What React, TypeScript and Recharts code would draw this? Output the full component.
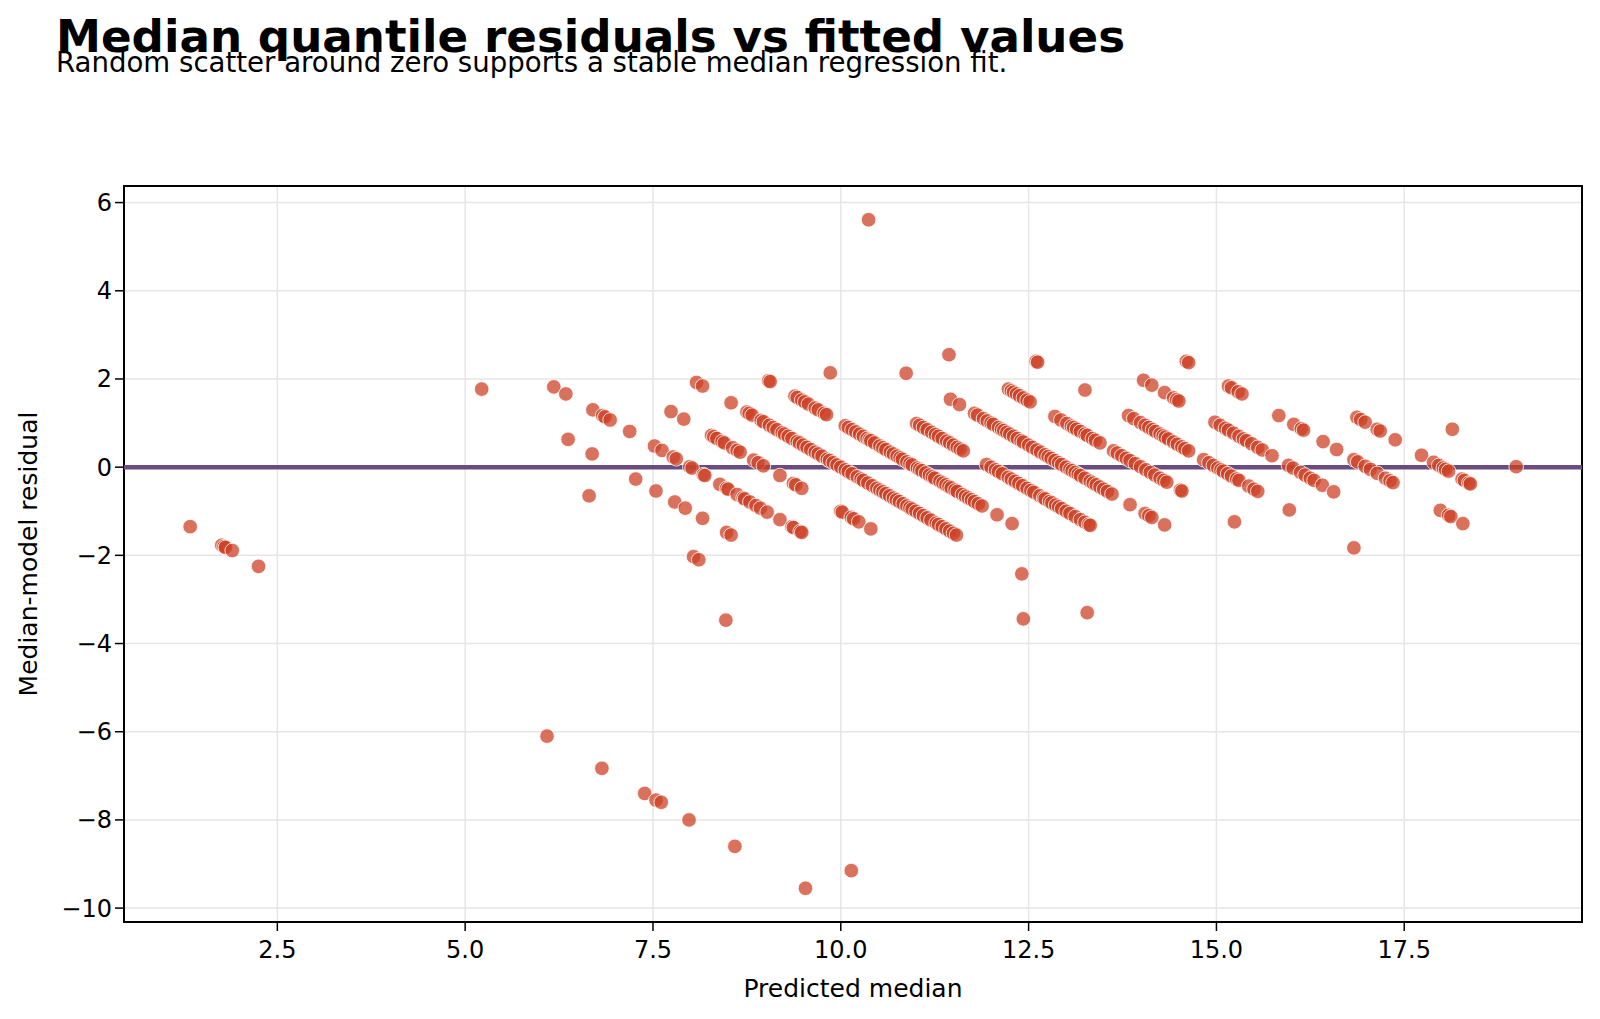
import React from "react";
import {
  ScatterChart, Scatter, XAxis, YAxis, CartesianGrid, ReferenceLine, ReferenceArea,
} from "recharts";

// [predicted median, residual] pairs
const ZERO_COUNT_POINTS: number[][] = [
  [1.34, -1.35], [1.76, -1.77], [1.79, -1.8], [1.81, -1.82], [1.9, -1.89], [2.25, -2.25],
  [6.09, -6.1], [6.82, -6.83], [7.39, -7.4], [7.54, -7.55], [7.61, -7.6], [7.98, -8.0],
  [8.59, -8.6], [9.53, -9.55], [10.14, -9.15],
];

const OUTLIER_POINTS: number[][] = [
  [10.37, 5.61], [12.6, 2.4], [12.62, 2.38], [14.6, 2.4], [14.63, 2.37], [11.44, 2.55],
  [9.86, 2.14], [10.87, 2.13], [5.22, 1.77], [8.47, -3.47], [12.43, -3.44], [13.28, -3.3],
  [12.41, -2.42], [8.04, -2.03], [8.11, -2.1], [6.65, -0.65],
];

const BAND_LOW: number[][] = [
  // counts 7 and 8
  [6.37, 0.63], [6.69, 0.3], [7.27, -0.27], [7.54, -0.54], [7.79, -0.79], [7.93, -0.93],
  [8.16, -1.16], [8.48, -1.48], [8.54, -1.54],
  [6.18, 1.82], [6.34, 1.66], [6.7, 1.3], [6.83, 1.17], [6.86, 1.14], [6.93, 1.07], [7.19, 0.81],
  [7.52, 0.48], [7.62, 0.38], [7.77, 0.23], [7.81, 0.19], [7.99, 0.01], [8.02, -0.02],
  [8.17, -0.17], [8.19, -0.19], [8.39, -0.39], [8.48, -0.48], [8.5, -0.5], [8.62, -0.62],
  [8.7, -0.7], [8.72, -0.72], [8.79, -0.79], [8.87, -0.87], [8.93, -0.93], [9.02, -1.02],
  [9.19, -1.19], [9.35, -1.35], [9.37, -1.37], [9.46, -1.46], [9.48, -1.48],
  // counts 9 and 10
  [7.74, 1.26], [7.91, 1.09], [8.28, 0.72], [8.31, 0.69], [8.35, 0.65], [8.42, 0.58],
  [8.45, 0.55], [8.56, 0.44], [8.62, 0.38], [8.66, 0.34], [8.84, 0.16], [8.9, 0.1],
  [8.97, 0.03], [9.19, -0.19], [9.37, -0.37], [9.4, -0.4], [9.48, -0.48], [10.0, -1.0],
  [10.02, -1.02], [10.14, -1.14], [10.17, -1.17], [10.24, -1.24], [10.4, -1.4],
  [8.08, 1.92], [8.16, 1.84], [8.54, 1.46], [8.75, 1.25], [8.78, 1.22], [8.82, 1.18],
  [8.94, 1.06], [8.97, 1.03], [9.05, 0.95], [9.1, 0.9], [9.15, 0.85], [9.22, 0.78], [9.25, 0.75],
  [9.3, 0.7], [9.35, 0.65], [9.42, 0.58], [9.45, 0.55], [9.5, 0.5], [9.55, 0.45], [9.6, 0.4],
  [9.66, 0.34], [9.7, 0.3], [9.75, 0.25], [9.82, 0.18], [9.85, 0.15], [9.9, 0.1], [9.95, 0.05],
  [10.0, 0.0], [10.06, -0.06], [10.1, -0.1], [10.15, -0.15], [10.22, -0.22], [10.27, -0.27],
  [10.3, -0.3], [10.36, -0.36], [10.42, -0.42], [10.48, -0.48], [10.52, -0.52], [10.56, -0.56],
  [10.6, -0.6], [10.65, -0.65], [10.7, -0.7], [10.74, -0.74], [10.78, -0.78], [10.83, -0.83],
  [10.88, -0.88], [10.92, -0.92], [10.95, -0.95], [11.0, -1.0], [11.05, -1.05], [11.1, -1.1],
  [11.15, -1.15], [11.2, -1.2], [11.27, -1.27], [11.3, -1.3], [11.35, -1.35], [11.4, -1.4],
  [11.45, -1.45], [11.5, -1.5], [11.54, -1.54],
];

const BAND_MID: number[][] = [
  // counts 11 and 12
  [9.04, 1.96], [9.06, 1.94], [9.39, 1.61], [9.42, 1.58], [9.48, 1.52], [9.52, 1.48],
  [9.57, 1.43], [9.66, 1.34], [9.7, 1.3], [9.78, 1.22], [9.81, 1.19], [10.06, 0.94],
  [10.1, 0.9], [10.15, 0.85], [10.2, 0.8], [10.25, 0.75], [10.3, 0.7], [10.35, 0.65],
  [10.38, 0.62], [10.4, 0.6], [10.45, 0.55], [10.52, 0.48], [10.56, 0.44], [10.6, 0.4],
  [10.66, 0.34], [10.7, 0.3], [10.75, 0.25], [10.79, 0.21], [10.82, 0.18], [10.88, 0.12],
  [10.92, 0.08], [10.95, 0.05], [11.02, -0.02], [11.05, -0.05], [11.08, -0.08], [11.13, -0.13],
  [11.18, -0.18], [11.22, -0.22], [11.25, -0.25], [11.32, -0.32], [11.36, -0.36], [11.4, -0.4],
  [11.44, -0.44], [11.47, -0.47], [11.52, -0.52], [11.55, -0.55], [11.62, -0.62], [11.66, -0.66],
  [11.7, -0.7], [11.74, -0.74], [11.78, -0.78], [11.83, -0.83], [11.88, -0.88], [12.08, -1.08],
  [12.28, -1.28],
  [11.01, 0.99], [11.05, 0.95], [11.1, 0.9], [11.15, 0.85], [11.21, 0.79], [11.26, 0.74],
  [11.3, 0.7], [11.35, 0.65], [11.41, 0.59], [11.45, 0.55], [11.5, 0.5], [11.55, 0.45],
  [11.59, 0.41], [11.63, 0.37], [11.94, 0.06], [12.0, 0.0], [12.06, -0.06], [12.1, -0.1],
  [12.15, -0.15], [12.23, -0.23], [12.27, -0.27], [12.32, -0.32], [12.37, -0.37], [12.42, -0.42],
  [12.48, -0.48], [12.53, -0.53], [12.57, -0.57], [12.65, -0.65], [12.7, -0.7], [12.72, -0.72],
  [12.78, -0.78], [12.81, -0.81], [12.86, -0.86], [12.9, -0.9], [12.94, -0.94], [13.0, -1.0],
  [13.05, -1.05], [13.12, -1.12], [13.19, -1.19], [13.25, -1.25], [13.3, -1.3], [13.32, -1.32],
  // counts 13 and 14
  [11.46, 1.54], [11.58, 1.42], [11.78, 1.22], [11.82, 1.18], [11.9, 1.1], [11.95, 1.05],
  [12.0, 1.0], [12.03, 0.97], [12.1, 0.9], [12.14, 0.86], [12.17, 0.83], [12.21, 0.79],
  [12.25, 0.75], [12.3, 0.7], [12.35, 0.65], [12.4, 0.6], [12.43, 0.57], [12.5, 0.5],
  [12.55, 0.45], [12.61, 0.39], [12.66, 0.34], [12.72, 0.28], [12.76, 0.24], [12.8, 0.2],
  [12.85, 0.15], [12.9, 0.1], [12.94, 0.06], [13.0, 0.0], [13.05, -0.05], [13.08, -0.08],
  [13.12, -0.12], [13.16, -0.16], [13.19, -0.19], [13.25, -0.25], [13.32, -0.32], [13.36, -0.36],
  [13.4, -0.4], [13.45, -0.45], [13.5, -0.5], [13.55, -0.55], [13.61, -0.61], [13.85, -0.85],
  [14.05, -1.05], [14.1, -1.1], [14.14, -1.14], [14.31, -1.31],
  [12.23, 1.77], [12.27, 1.73], [12.3, 1.7], [12.34, 1.66], [12.38, 1.62], [12.43, 1.57],
  [12.48, 1.52], [12.52, 1.48], [12.85, 1.15], [12.93, 1.07], [13.01, 0.99], [13.07, 0.93],
  [13.1, 0.9], [13.14, 0.86], [13.19, 0.81], [13.25, 0.75], [13.28, 0.72], [13.35, 0.65],
  [13.39, 0.61], [13.45, 0.55], [13.63, 0.37], [13.68, 0.32], [13.74, 0.26], [13.8, 0.2],
  [13.85, 0.15], [13.92, 0.08], [13.99, 0.01], [14.06, -0.06], [14.12, -0.12], [14.18, -0.18],
  [14.25, -0.25], [14.3, -0.3], [14.34, -0.34], [14.52, -0.52], [14.54, -0.54], [15.24, -1.24],
];

const BAND_HIGH: number[][] = [
  // counts 15 and 16
  [13.25, 1.75], [13.83, 1.17], [13.9, 1.1], [13.99, 1.01], [14.05, 0.95], [14.1, 0.9],
  [14.15, 0.85], [14.19, 0.81], [14.25, 0.75], [14.29, 0.71], [14.32, 0.68], [14.36, 0.64],
  [14.43, 0.57], [14.48, 0.52], [14.54, 0.46], [14.58, 0.42], [14.63, 0.37], [14.83, 0.17],
  [14.9, 0.1], [14.96, 0.04], [15.02, -0.02], [15.06, -0.06], [15.09, -0.09], [15.15, -0.15],
  [15.2, -0.2], [15.27, -0.27], [15.3, -0.3], [15.43, -0.43], [15.5, -0.5], [15.55, -0.55],
  [15.97, -0.97], [16.83, -1.83],
  [14.03, 1.97], [14.14, 1.86], [14.31, 1.69], [14.43, 1.57], [14.47, 1.53], [14.5, 1.5],
  [14.98, 1.02], [15.05, 0.95], [15.12, 0.88], [15.16, 0.84], [15.23, 0.77], [15.3, 0.7],
  [15.36, 0.64], [15.4, 0.6], [15.47, 0.53], [15.55, 0.45], [15.61, 0.39], [15.74, 0.26],
  [15.96, 0.04], [16.02, -0.02], [16.12, -0.12], [16.18, -0.18], [16.25, -0.25], [16.3, -0.3],
  [16.41, -0.41], [16.56, -0.56],
  // counts 17 to 19
  [15.16, 1.84], [15.2, 1.8], [15.29, 1.71], [15.34, 1.66], [15.83, 1.17], [16.03, 0.97],
  [16.13, 0.87], [16.16, 0.84], [16.42, 0.58], [16.6, 0.4], [16.83, 0.17], [16.88, 0.12],
  [16.98, 0.02], [17.05, -0.05], [17.14, -0.14], [17.25, -0.25], [17.31, -0.31], [17.35, -0.35],
  [17.98, -0.98], [18.09, -1.09], [18.12, -1.12], [18.28, -1.28],
  [16.87, 1.13], [16.92, 1.08], [16.98, 1.02], [17.14, 0.86], [17.18, 0.82], [17.38, 0.62],
  [17.73, 0.27], [17.89, 0.11], [17.96, 0.04], [18.02, -0.02], [18.05, -0.05], [18.09, -0.09],
  [18.27, -0.27], [18.3, -0.3], [18.36, -0.36], [18.38, -0.38],
  [18.14, 0.86], [18.99, 0.01],
];

const X_TICKS = [2.5, 5, 7.5, 10, 12.5, 15, 17.5];
const Y_TICKS = [-10, -8, -6, -4, -2, 0, 2, 4, 6];
const X_DOMAIN: [number, number] = [0.459, 19.866];
const Y_DOMAIN: [number, number] = [-10.315, 6.376];

const points = [...ZERO_COUNT_POINTS, ...OUTLIER_POINTS, ...BAND_LOW, ...BAND_MID, ...BAND_HIGH]
  .map(([x, y]) => ({ x, y }));

const Dot = (p: any) => (
  <circle cx={p.cx} cy={p.cy} r={7.3} fill="#cc4125" fillOpacity={0.75}
    stroke="#ffffff" strokeOpacity={0.8} strokeWidth={1} />
);

const fmtY = (v: number) => (v < 0 ? `\u2212${Math.abs(v)}` : `${v}`);

export default function App() {
  return (
    <div style={{
      position: "absolute", left: 0, top: 0, width: 1600, height: 1019, background: "#fff",
      fontFamily: '"DejaVu Sans", sans-serif', color: "#000",
    }}>
      <div style={{ position: "absolute", left: 56, top: 14, fontSize: 45.2, fontWeight: 700, lineHeight: 1, whiteSpace: "nowrap" }}>
        Median quantile residuals vs fitted values
      </div>
      <div style={{ position: "absolute", left: 56, top: 49, fontSize: 27.6, lineHeight: 1, whiteSpace: "nowrap" }}>
        Random scatter around zero supports a stable median regression fit.
      </div>
      <div style={{
        position: "absolute", left: 28, top: 554, fontSize: 25, lineHeight: 1, whiteSpace: "nowrap",
        transform: "translate(-50%, -50%) rotate(-90deg)",
      }}>
        Median-model residual
      </div>
      <div style={{
        position: "absolute", left: 853, top: 976, fontSize: 25, lineHeight: 1, whiteSpace: "nowrap",
        transform: "translateX(-50%)",
      }}>
        Predicted median
      </div>

      <ScatterChart width={1600} height={1019} margin={{ top: 186, right: 18, bottom: 0, left: 0 }}>
        <CartesianGrid stroke="#e6e6e6" strokeWidth={1.5} horizontalValues={Y_TICKS} verticalValues={X_TICKS} />
        <XAxis type="number" dataKey="x" domain={X_DOMAIN} ticks={X_TICKS} allowDataOverflow
          height={97} tickSize={9} tickMargin={10} axisLine={false}
          tickLine={{ stroke: "#000", strokeWidth: 1.5 }}
          tick={{ fill: "#000", fontSize: 24 }} tickFormatter={(v: number) => v.toFixed(1)} />
        <YAxis type="number" dataKey="y" domain={Y_DOMAIN} ticks={Y_TICKS} allowDataOverflow
          width={124} tickSize={9} tickMargin={3} axisLine={false}
          tickLine={{ stroke: "#000", strokeWidth: 1.5 }}
          tick={{ fill: "#000", fontSize: 24 }} tickFormatter={fmtY} />
        <Scatter data={points} shape={Dot} isAnimationActive={false} />
        <ReferenceLine y={0} stroke="#6a4c7f" strokeWidth={4.5} />
        <ReferenceArea x1={X_DOMAIN[0]} x2={X_DOMAIN[1]} y1={Y_DOMAIN[0]} y2={Y_DOMAIN[1]}
          fill="none" stroke="#000" strokeWidth={2} />
      </ScatterChart>
    </div>
  );
}
